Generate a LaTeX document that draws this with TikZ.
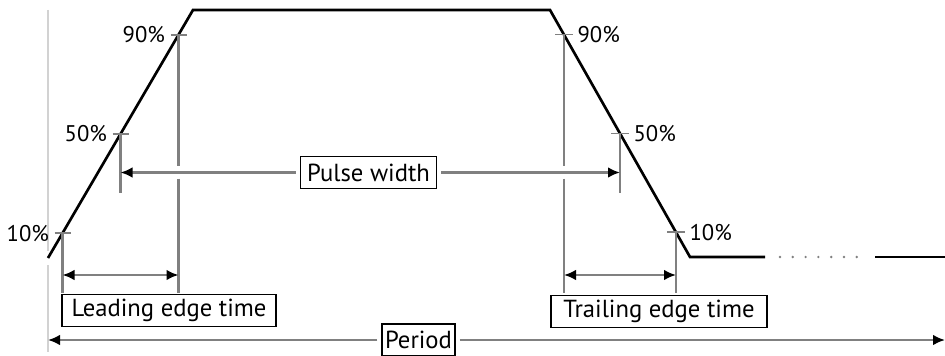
\documentclass[tikz,border=0pt]{standalone}
\usepackage{fontspec}
\setmainfont{PT Sans}
\usetikzlibrary{calc,arrows.meta}
\definecolor{guidegray}{gray}{0.5}

\begin{document}
\begin{tikzpicture}[x=0.75pt,y=-0.75pt,
  wave/.style={black,line width=2pt,line join=miter},
  guide/.style={guidegray,line width=1.7pt},
  faint/.style={gray!35,line width=0.9pt},
  dim/.style={guide,{Latex[black,length=9pt,width=8pt]}-{Latex[black,length=9pt,width=8pt]}},
  halfdim/.style={guide,-{Latex[black,length=9pt,width=8pt]}},
  pct/.style={font=\fontsize{17}{19}\selectfont,inner sep=1pt},
  tag/.style={draw,line width=1.4pt,fill=white,font=\fontsize{18.5}{21}\selectfont,minimum height=24pt,inner xsep=4pt}]
\useasboundingbox (0,0) rectangle (945,356);

% corners of the pulse
\coordinate (w0) at (48,258);
\coordinate (w1) at (193,10);
\coordinate (w2) at (550,10);
\coordinate (w3) at (690,257);
\coordinate (w4) at (765,257);
\coordinate (w5) at (875,257);
\coordinate (w6) at (945,257);
% rows used by the guides
\coordinate (foot) at (0,293);
\coordinate (mid) at (0,193);
\coordinate (edgerow) at (0,275);

% reference line at the start of the period
\draw[faint] (48,10) -- (48,251);
\draw[faint] (48,265) -- (48,352);

\draw[wave] (w0) -- (w1) -- (w2) -- (w3) -- (w4);
\draw[wave] (w5) -- (w6);
\foreach \i in {0,...,6}
  \fill[guidegray] (780+12.8*\i,257) circle[radius=1pt];

% 10/50/90 percent marks on both edges
\foreach \p/\n in {0.1/10,0.5/50,0.9/90}{
  \coordinate (up\n) at ($(w0)!\p!(w1)$);
  \coordinate (dn\n) at ($(w3)!\p!(w2)$);
  \draw[guide,line width=1.2pt] ($(up\n)+(-8,0)$) -- ($(up\n)+(8,0)$);
  \draw[guide,line width=1.2pt] ($(dn\n)+(-9,0)$) -- ($(dn\n)+(9,0)$);
  \node[pct,anchor=east] (lbup\n) at ($(up\n)+(-12,0)$) {\n\%};
  \node[pct,anchor=west] (lbdn\n) at ($(dn\n)+(12,0)$) {\n\%};
}

\node[tag,minimum width=102pt] (pw) at (368.5,172.5) {Pulse width};

% guides down from the marks
\draw[guide] (up10) -- (up10 |- foot);
\draw[guide] (dn10) -- (dn10 |- foot);
\draw[guide] (up50) -- (up50 |- mid);
\draw[guide] (dn50) -- (dn50 |- mid);
\foreach \c in {up90,dn90}{
  \draw[guide] (\c) -- ($(\c |- pw)+(0,-6)$);
  \draw[guide] ($(\c |- pw)+(0,6)$) -- (\c |- foot);
}

\draw[halfdim,shorten <=3pt] (pw.west) -- (up50 |- pw);
\draw[halfdim,shorten <=3pt] (pw.east) -- (dn50 |- pw);

\draw[dim] (up10 |- edgerow) -- (up90 |- edgerow);
\draw[dim] (dn90 |- edgerow) -- (dn10 |- edgerow);

\node[tag,minimum width=160pt] (lead) at (169,310.5) {Leading edge time};
\node[tag,minimum width=162pt] (trail) at (659,311.5) {Trailing edge time};
\node[tag,minimum width=54pt,inner xsep=2pt] (period) at (418.5,340) {Period};

\coordinate (pstart) at (48,340);
\coordinate (pend) at (945,340);
\draw[halfdim,shorten <=3pt] (period.west) -- (pstart);
\draw[halfdim,shorten <=3pt] (period.east) -- (pend);
\end{tikzpicture}
\end{document}
